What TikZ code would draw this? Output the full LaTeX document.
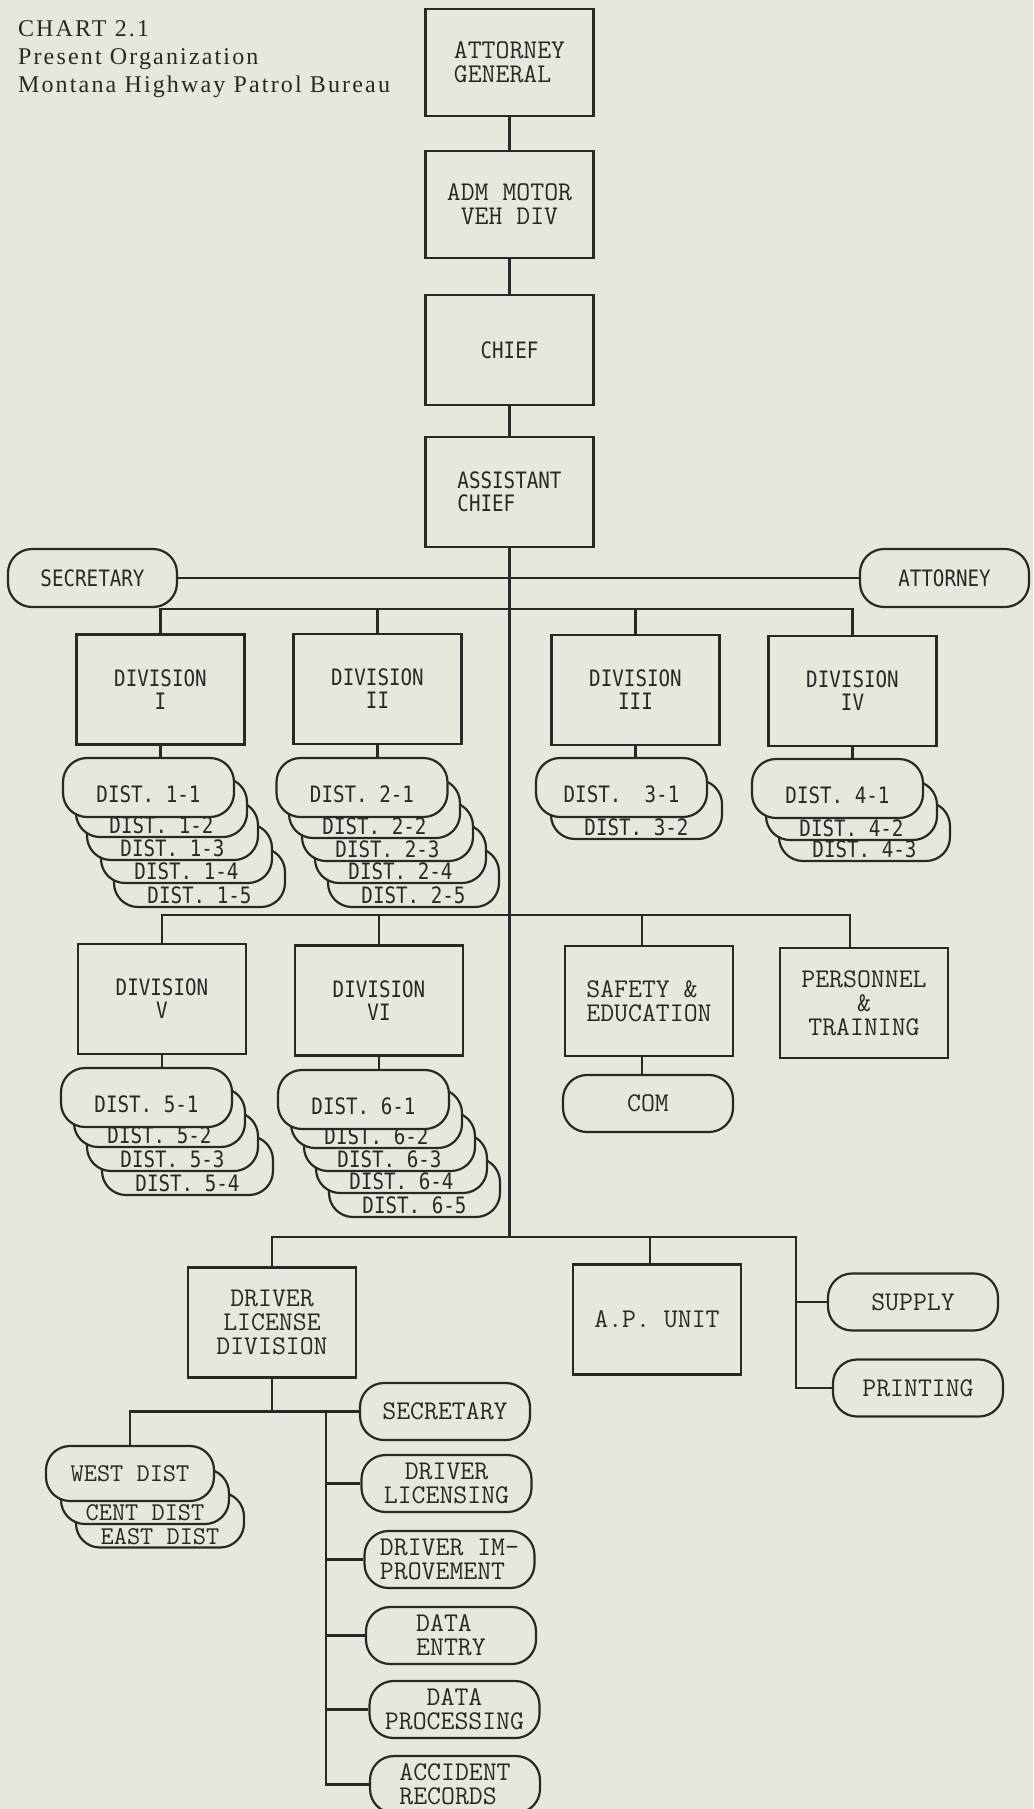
\documentclass[tikz,border=0pt]{standalone}
\usepackage{fontspec}
\newfontfamily\gothfont[FakeStretch=0.85]{DejaVu Sans Mono}
\newfontfamily\titlefont[LetterSpace=9]{Liberation Serif}
\newcommand\courtext{\ttfamily\fontsize{13.5}{12}\selectfont}
\newcommand\gothtext{\gothfont\fontsize{11.3}{11.5}\selectfont}
\definecolor{paper}{RGB}{231,232,221}
\definecolor{ink}{RGB}{40,40,38}

\begin{document}
\begin{tikzpicture}[x=0.5pt, y=-0.5pt, color=ink, line width=1.1pt,
  every node/.style={inner sep=0pt},
  cbox/.style={rectangle, draw, fill=paper, align=center, minimum width=84pt, minimum height=55pt, font=\courtext},
  gbox/.style={cbox, font=\gothtext},
  pill/.style={rectangle, draw, fill=paper, rounded corners=12pt, align=center},
  cpill/.style={pill, minimum width=85pt, minimum height=28.5pt, font=\courtext},
  gpill/.style={pill, minimum width=84.5pt, minimum height=29pt, font=\gothtext},
  dist/.style={pill, minimum width=85.5pt, minimum height=29.5pt, font=\gothtext, text height=14.5pt, text depth=0pt},
  distback/.style={dist, text height=25.5pt},
  wdist/.style={pill, minimum width=84pt, minimum height=27.5pt, font={\ttfamily\fontsize{12.8}{12}\selectfont}},
  wdistback/.style={wdist, text height=24pt, text depth=0pt}]
\useasboundingbox[fill=paper] (0,0) rectangle (1033,1809);

\node[anchor=north west, align=left, font={\titlefont\fontsize{12}{14}\selectfont}] (title) at (17,20)
  {CHART 2.1\\Present Organization\\Montana Highway Patrol Bureau};

\node[cbox, align=left, minimum height=53.5pt] (ag) at (509.5,62.5) {ATTORNEY\\GENERAL};
\node[cbox, minimum height=53.5pt] (adm) at (509.5,204.5) {ADM MOTOR\\VEH DIV};
\node[gbox] (chief) at (509.5,350) {CHIEF};
\node[gbox, align=left] (asst) at (509.5,492) {ASSISTANT\\CHIEF};
\node[gpill] (sec) at (92.5,578) {SECRETARY};
\node[gpill] (att) at (944.5,578) {ATTORNEY};

\node[gbox] (div1) at (160.5,689.5) {DIVISION\\I};
\node[gbox] (div2) at (377.5,689) {DIVISION\\II};
\node[gbox] (div3) at (635.5,690) {DIVISION\\III};
\node[gbox] (div4) at (852.5,691) {DIVISION\\IV};

\node[distback] (d15) at (199.5,877.5) {DIST. 1-5};
\node[distback] (d14) at (186.5,853.5) {DIST. 1-4};
\node[distback] (d13) at (172.5,830.5) {DIST. 1-3};
\node[distback] (d12) at (161.5,807.5) {DIST. 1-2};
\node[dist] (d11) at (148.5,787.5) {DIST. 1-1};

\node[distback] (d25) at (413.5,877.5) {DIST. 2-5};
\node[distback] (d24) at (400.5,853.5) {DIST. 2-4};
\node[distback] (d23) at (387.5,831.5) {DIST. 2-3};
\node[distback] (d22) at (374.5,808.5) {DIST. 2-2};
\node[dist] (d21) at (362,787.5) {DIST. 2-1};

\node[distback] (d32) at (636.5,809.5) {DIST. 3-2};
\node[dist] (d31) at (621.5,787.5) {DIST.~ 3-1};

\node[distback] (d43) at (864.5,831.5) {DIST. 4-3};
\node[distback] (d42) at (851.5,810.5) {DIST. 4-2};
\node[dist] (d41) at (837.5,788.5) {DIST. 4-1};

\node[gbox] (div5) at (162,999) {DIVISION\\V};
\node[gbox] (div6) at (379,1000.5) {DIVISION\\VI};
\node[cbox, align=left] (safe) at (649,1001) {SAFETY \&\\EDUCATION};
\node[cbox] (pers) at (864,1003) {PERSONNEL\\\&\\TRAINING};
\node[cpill] (com) at (648,1103.5) {COM};

\node[distback] (d54) at (187.5,1165.5) {DIST. 5-4};
\node[distback] (d53) at (172.5,1141.5) {DIST. 5-3};
\node[distback] (d52) at (159.5,1117.5) {DIST. 5-2};
\node[dist] (d51) at (146.5,1097.5) {DIST. 5-1};

\node[distback] (d65) at (414.5,1187.5) {DIST. 6-5};
\node[distback] (d64) at (401.5,1163.5) {DIST. 6-4};
\node[distback] (d63) at (389.5,1141.5) {DIST. 6-3};
\node[distback] (d62) at (376.5,1118.5) {DIST. 6-2};
\node[dist] (d61) at (363.5,1099.5) {DIST. 6-1};

\node[cbox] (dld) at (272,1322.5) {DRIVER\\LICENSE\\DIVISION};
\node[cbox] (ap) at (657,1319.5) {A.P. UNIT};
\node[cpill] (supply) at (913,1302) {SUPPLY};
\node[cpill] (print) at (918,1388) {PRINTING};

\node[wdistback] (east) at (160,1520) {EAST DIST};
\node[wdistback] (cent) at (145,1496.5) {CENT DIST};
\node[wdist] (west) at (130,1473.5) {WEST DIST};

\node[cpill] (sec2) at (445,1411.5) {SECRETARY};
\node[cpill] (dlic) at (446.5,1483.5) {DRIVER\\LICENSING};
\node[cpill, align=left] (dimp) at (449.5,1559.5) {DRIVER IM-\\PROVEMENT};
\node[cpill, align=left] (dent) at (451,1635.5) {DATA\\ENTRY};
\node[cpill] (dproc) at (454.5,1709.5) {DATA\\PROCESSING};
\node[cpill, align=left] (accid) at (455,1784.5) {ACCIDENT\\RECORDS};

\coordinate (top1) at (509.5,609);
\coordinate (top2) at (509.5,915);
\coordinate (bus3) at (509.5,1237);
\coordinate (sp) at (796,1237);
\coordinate (staff) at (326,1411.5);

\draw (ag) -- (adm);
\draw (adm) -- (chief);
\draw (chief) -- (asst);
\draw (asst) -- (bus3);
\draw (sec) -- (att);

\draw (div1.north) |- (top1) -| (div4.north);
\draw (div2.north) |- (top1);
\draw (div3.north) |- (top1);
\draw (div1.south) -- (div1.south |- d11.north);
\draw (div2.south) -- (div2.south |- d21.north);
\draw (div3.south) -- (div3.south |- d31.north);
\draw (div4.south) -- (div4.south |- d41.north);

\draw (div5.north) |- (top2) -| ([xshift=-7pt]pers.north);
\draw (div6.north) |- (top2);
\draw ([xshift=-3.5pt]safe.north) |- (top2);
\draw (div5.south) -- (div5.south |- d51.north);
\draw (div6.south) -- (div6.south |- d61.north);
\draw ([xshift=-3.5pt]safe.south) -- ([xshift=-3.5pt]safe.south |- com.north);

\draw (dld.north) |- (bus3) -- (sp) |- (print.west);
\draw ([xshift=-3.5pt]ap.north) |- (bus3);
\draw (supply.west) -- (supply.west -| sp);

\draw (dld.south) -- (dld.south |- sec2.west);
\draw (west.north) |- (sec2.west);
\draw (staff) |- (accid.west);
\draw (dlic.west) -- (dlic.west -| staff);
\draw (dimp.west) -- (dimp.west -| staff);
\draw (dent.west) -- (dent.west -| staff);
\draw (dproc.west) -- (dproc.west -| staff);
\end{tikzpicture}
\end{document}
